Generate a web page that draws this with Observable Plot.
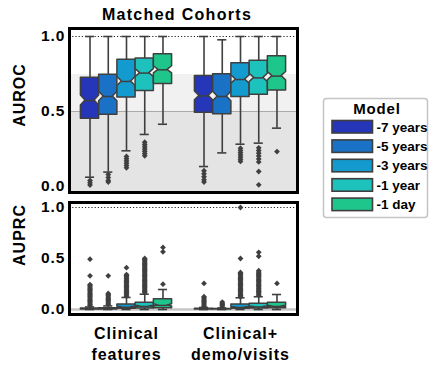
<!DOCTYPE html>
<html>
<head>
<meta charset="utf-8">
<script src="https://cdn.jsdelivr.net/npm/d3@7"></script>
<script src="https://cdn.jsdelivr.net/npm/@observablehq/plot@0.6"></script>
<style>
  html, body { margin: 0; padding: 0; background: #fff; }
  #wrap { position: relative; width: 432px; height: 368px; overflow: hidden; background: #fff;
          font-family: "Liberation Sans", Arial, sans-serif; }
  #wrap > svg, #wrap > div { position: absolute; }
</style>
</head>
<body>
<div id="wrap"></div>
<script>
// ---------------- data ----------------
const title = "Matched Cohorts";
const groups = ["Clinical\nfeatures", "Clinical+\ndemo/visits"];
const models = ["-7 years", "-5 years", "-3 years", "-1 year", "-1 day"];
const modelColors = ["#2536b8", "#1a72c6", "#139bd0", "#1cc2bb", "#1ec68c"];
const yTicks = [0, 0.5, 1.0];

// AUROC (per group, per model)
const aurocQ1     = [[0.451, 0.478, 0.593, 0.636, 0.684], [0.491, 0.482, 0.596, 0.611, 0.640]];
const aurocMedian = [[0.573, 0.600, 0.700, 0.756, 0.778], [0.604, 0.600, 0.713, 0.724, 0.736]];
const aurocQ3     = [[0.725, 0.745, 0.845, 0.853, 0.882], [0.736, 0.749, 0.822, 0.838, 0.869]];
const aurocLow    = [[0.062, 0.096, 0.238, 0.347, 0.415], [0.133, 0.224, 0.282, 0.289, 0.389]];
const aurocHigh   = [[1.0, 1.0, 1.0, 1.0, 1.0], [1.0, 0.978, 1.0, 1.0, 1.0]];
const aurocFliers = [
  [[0.04, 0.025, 0.01], [0.08, 0.06, 0.04, 0.03], [0.2, 0.185, 0.17, 0.155, 0.14, 0.125],
   [0.295, 0.28, 0.265, 0.25, 0.235, 0.22, 0.205], []],
  [[0.105, 0.085, 0.065, 0.045, 0.03], [], [0.255, 0.24, 0.225, 0.21, 0.195, 0.18, 0.167],
   [0.258, 0.24, 0.222, 0.204, 0.184, 0.164, 0.1, 0.011], [0.233]]
];
const aurocChance = 0.5;
const aurocShadeTop = 0.747;

// AUPRC (per group, per model)
const auprcQ1     = [[0.0, 0.0, 0.008, 0.01, 0.012], [0.0, 0.0, 0.008, 0.01, 0.012]];
const auprcMedian = [[0.003, 0.003, 0.022, 0.03, 0.04], [0.002, 0.002, 0.02, 0.025, 0.03]];
const auprcQ3     = [[0.01, 0.012, 0.05, 0.065, 0.1], [0.008, 0.006, 0.049, 0.056, 0.066]];
const auprcLow    = [[0, 0, 0, 0, 0], [0, 0, 0, 0, 0]];
const auprcHigh   = [[0.025, 0.035, 0.118, 0.15, 0.196], [0.02, 0.015, 0.115, 0.125, 0.147]];
const auprcFliers = [
  [[0.04, 0.052, 0.064, 0.076, 0.088, 0.1, 0.112, 0.124, 0.136, 0.148, 0.16, 0.172, 0.184, 0.196, 0.208, 0.22, 0.232, 0.245, 0.33, 0.493],
   [0.05, 0.062, 0.074, 0.086, 0.098, 0.11, 0.122, 0.134, 0.146, 0.158, 0.33],
   [0.13, 0.142, 0.154, 0.166, 0.178, 0.19, 0.202, 0.214, 0.226, 0.238, 0.25, 0.262, 0.274, 0.286, 0.298, 0.31, 0.322, 0.334, 0.343, 0.41],
   [0.165, 0.177, 0.189, 0.201, 0.213, 0.225, 0.237, 0.249, 0.261, 0.273, 0.285, 0.297, 0.309, 0.321, 0.333, 0.345, 0.357, 0.369, 0.381, 0.393, 0.405, 0.417, 0.429, 0.441, 0.453, 0.465, 0.477, 0.489, 0.501],
   [0.248, 0.565, 0.608]],
  [[0.03, 0.042, 0.054, 0.066, 0.078, 0.09, 0.102, 0.114, 0.125, 0.255],
   [0.025, 0.037, 0.049, 0.061, 0.073],
   [0.125, 0.137, 0.149, 0.161, 0.173, 0.185, 0.197, 0.209, 0.221, 0.233, 0.245, 0.257, 0.269, 0.281, 0.293, 0.305, 0.317, 0.329, 0.341, 0.353, 0.363, 0.5, 1.0],
   [0.14, 0.152, 0.164, 0.176, 0.188, 0.2, 0.212, 0.224, 0.236, 0.248, 0.26, 0.272, 0.284, 0.296, 0.308, 0.32, 0.332, 0.344, 0.356, 0.368, 0.38, 0.522, 0.561],
   [0.255]]
];
const auprcBaseline = 0.0;

// ---------------- helpers ----------------
const BW = 0.16;            // box width in band units (0.8 / 5)
const EDGE = "#3f3f3f";
const FONT = '"Liberation Sans", Arial, sans-serif';

function buildBoxes(q1, med, q3, lo, hi, fl) {
  const boxes = [];
  groups.forEach((g, gi) => models.forEach((m, mi) => {
    const xc = gi + 0.5 + (mi - 2) * BW;
    boxes.push({id: gi * 5 + mi, xc, color: modelColors[mi],
      q1: q1[gi][mi], med: med[gi][mi], q3: q3[gi][mi], lo: lo[gi][mi], hi: hi[gi][mi], fliers: fl[gi][mi]});
  }));
  return boxes;
}
function outline(boxes) {
  const pts = [];
  for (const b of boxes) {
    const n = Math.min(0.12 * (b.q3 - b.q1), b.med - b.q1, b.q3 - b.med);
    const L = b.xc - BW / 2, R = b.xc + BW / 2, l = b.xc - BW / 4, r = b.xc + BW / 4;
    pts.push({id: b.id, color: b.color, y: b.q1, x1: L, x2: R});
    pts.push({id: b.id, color: b.color, y: b.med - n, x1: L, x2: R});
    pts.push({id: b.id, color: b.color, y: b.med, x1: l, x2: r});
    pts.push({id: b.id, color: b.color, y: b.med + n, x1: L, x2: R});
    pts.push({id: b.id, color: b.color, y: b.q3, x1: L, x2: R});
  }
  return pts;
}
function boxMarks(boxes) {
  const whiskers = boxes.flatMap(b => [{x: b.xc, y1: b.lo, y2: b.q1}, {x: b.xc, y1: b.q3, y2: b.hi}]);
  const caps = boxes.flatMap(b => [{y: b.lo, x1: b.xc - BW / 4, x2: b.xc + BW / 4}, {y: b.hi, x1: b.xc - BW / 4, x2: b.xc + BW / 4}]);
  const fliers = boxes.flatMap(b => b.fliers.map(v => ({x: b.xc, y: v})));
  return [
    Plot.ruleX(whiskers, {x: "x", y1: "y1", y2: "y2", stroke: EDGE, strokeWidth: 1.6}),
    Plot.ruleY(caps, {y: "y", x1: "x1", x2: "x2", stroke: EDGE, strokeWidth: 1.6}),
    Plot.areaX(outline(boxes), {y: "y", x1: "x1", x2: "x2", z: "id", fill: "color", stroke: EDGE, strokeWidth: 1.5, curve: "linear"}),
    Plot.ruleY(boxes, {y: "med", x1: d => d.xc - BW / 4, x2: d => d.xc + BW / 4, stroke: EDGE, strokeWidth: 1.5}),
    Plot.dot(fliers, {x: "x", y: "y", symbol: "square", rotate: 45, r: 2.3, fill: EDGE, stroke: "none"})
  ];
}
const baseStyle = {fontFamily: FONT, fontWeight: "bold", letterSpacing: "1px", background: "transparent", overflow: "visible"};

// ---------------- top panel: AUROC ----------------
const topDomain = [-0.04, 1.0533];
const topBoxes = buildBoxes(aurocQ1, aurocMedian, aurocQ3, aurocLow, aurocHigh, aurocFliers);
const aurocPlot = Plot.plot({
  width: 300, height: 194,
  marginLeft: 69, marginRight: 3, marginTop: 28, marginBottom: 2,
  x: {domain: [0, 2], axis: null},
  y: {domain: topDomain, axis: null},
  color: {type: "identity"},
  style: baseStyle,
  marks: [
    Plot.rect([aurocShadeTop], {x1: () => 0, x2: () => 2, y1: () => topDomain[0], y2: d => d, fill: "#f1f1f1"}),
    Plot.rect([aurocChance], {x1: () => 0, x2: () => 2, y1: () => topDomain[0], y2: d => d, fill: "#e4e4e4"}),
    Plot.ruleY([aurocChance], {stroke: "#a9a9a9", strokeWidth: 1}),
    Plot.ruleY([1.0], {stroke: "#222", strokeWidth: 1, strokeDasharray: "1.2,2"}),
    ...boxMarks(topBoxes),
    Plot.axisY({ticks: yTicks, tickFormat: d => d.toFixed(1), tickSize: 0, tickPadding: 4, fontSize: 15.5, fontWeight: "bold", label: null}),
    Plot.frame({stroke: "#000", strokeWidth: 3})
  ]
});
aurocPlot.style.left = "0px"; aurocPlot.style.top = "0px";

// ---------------- bottom panel: AUPRC ----------------
const botDomain = [-0.049, 1.049];
const botBoxes = buildBoxes(auprcQ1, auprcMedian, auprcQ3, auprcLow, auprcHigh, auprcFliers);
const auprcPlot = Plot.plot({
  width: 300, height: 172,
  marginLeft: 69, marginRight: 3, marginTop: 6, marginBottom: 54,
  x: {domain: [0, 2]},
  y: {domain: botDomain, axis: null},
  color: {type: "identity"},
  style: baseStyle,
  marks: [
    Plot.ruleY([auprcBaseline], {stroke: "#c6c6c6", strokeWidth: 2.5}),
    Plot.ruleY([1.0], {stroke: "#222", strokeWidth: 1, strokeDasharray: "1.2,2"}),
    ...boxMarks(botBoxes),
    Plot.axisY({ticks: yTicks, tickFormat: d => d.toFixed(1), tickSize: 0, tickPadding: 4, fontSize: 15.5, fontWeight: "bold", label: null}),
    Plot.axisX({ticks: [0.5, 1.5], tickFormat: (d, i) => groups[i], tickSize: 0, tickPadding: 10,
                fontSize: 16, fontWeight: "bold", lineHeight: 1.3, label: null}),
    Plot.frame({stroke: "#000", strokeWidth: 3})
  ]
});
auprcPlot.style.left = "0px"; auprcPlot.style.top = "196px";

const wrap = document.getElementById("wrap");
wrap.appendChild(aurocPlot);
wrap.appendChild(auprcPlot);

// ---------------- overlay: title, axis titles, legend ----------------
const ns = "http://www.w3.org/2000/svg";
const ov = document.createElementNS(ns, "svg");
ov.setAttribute("width", 432); ov.setAttribute("height", 368);
ov.style.left = "0px"; ov.style.top = "0px";
ov.style.fontFamily = FONT; ov.style.fontWeight = "bold";
function el(tag, attrs, text) {
  const e = document.createElementNS(ns, tag);
  for (const k in attrs) e.setAttribute(k, attrs[k]);
  if (text != null) e.textContent = text;
  ov.appendChild(e);
  return e;
}
el("text", {x: 177, y: 20, "text-anchor": "middle", "font-size": 16, "letter-spacing": "1.3px"}, title);
el("text", {transform: "translate(25,95) rotate(-90)", "text-anchor": "middle", "font-size": 16, "letter-spacing": "1px"}, "AUROC");
el("text", {transform: "translate(25,235) rotate(-90)", "text-anchor": "middle", "font-size": 16, "letter-spacing": "1px"}, "AUPRC");
// legend
el("rect", {x: 323.5, y: 98.5, width: 104, height: 119, rx: 3, fill: "#fff", stroke: "#c4c4c4", "stroke-width": 1.5});
el("text", {x: 377, y: 113.5, "text-anchor": "middle", "font-size": 15, "letter-spacing": "0.8px"}, "Model");
models.forEach((m, i) => {
  const y0 = 120.5 + i * 19.4;
  el("rect", {x: 332, y: y0, width: 40.5, height: 12.5, fill: modelColors[i], stroke: EDGE, "stroke-width": 1.6});
  el("text", {x: 376.5, y: y0 + 11, "font-size": 13.5}, m);
});
wrap.appendChild(ov);
</script>
</body>
</html>
